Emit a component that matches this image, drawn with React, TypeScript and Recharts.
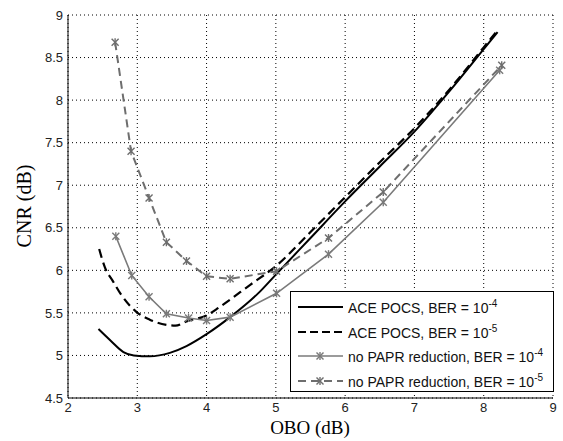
import React from "react";
import { CartesianGrid, Label, Line, LineChart, XAxis, YAxis } from "recharts";

// OBO (dB) / CNR (dB)
const aceBer4Obo = [2.44, 2.62, 2.8, 2.95, 3.18, 3.47, 3.71, 4.0, 4.34, 4.77, 5.0, 5.5, 6.0, 6.5, 7.0, 7.5, 8.0, 8.2];
const aceBer4Cnr = [5.31, 5.17, 5.04, 5.0, 4.99, 5.03, 5.11, 5.25, 5.45, 5.75, 5.95, 6.38, 6.81, 7.22, 7.63, 8.1, 8.6, 8.8];

const aceBer5Obo = [2.45, 2.53, 2.65, 2.77, 2.99, 3.18, 3.42, 3.55, 3.71, 4.0, 4.19, 4.63, 5.0, 5.5, 6.0, 6.5, 7.0, 7.5, 8.0, 8.18];
const aceBer5Cnr = [6.25, 6.04, 5.87, 5.71, 5.51, 5.42, 5.36, 5.35, 5.4, 5.47, 5.57, 5.83, 6.05, 6.45, 6.86, 7.27, 7.67, 8.12, 8.62, 8.8];

const noPaprBer4Obo = [2.69, 2.92, 3.17, 3.42, 3.74, 4.0, 4.34, 5.01, 5.76, 6.55, 8.23];
const noPaprBer4Cnr = [6.4, 5.94, 5.69, 5.49, 5.44, 5.41, 5.45, 5.73, 6.19, 6.8, 8.35];

const noPaprBer5Obo = [2.68, 2.91, 3.17, 3.42, 3.71, 4.0, 4.34, 5.01, 5.76, 6.55, 8.26];
const noPaprBer5Cnr = [8.68, 7.4, 6.85, 6.33, 6.11, 5.93, 5.9, 5.99, 6.38, 6.92, 8.41];

const xTicks = [2, 3, 4, 5, 6, 7, 8, 9];
const yTicks = [4.5, 5, 5.5, 6, 6.5, 7, 7.5, 8, 8.5, 9];

const toPoints = (xs: number[], ys: number[]) => xs.map((x, i) => ({ x, y: ys[i] }));

const aceBer4 = toPoints(aceBer4Obo, aceBer4Cnr);
const aceBer5 = toPoints(aceBer5Obo, aceBer5Cnr);
const noPaprBer4 = toPoints(noPaprBer4Obo, noPaprBer4Cnr);
const noPaprBer5 = toPoints(noPaprBer5Obo, noPaprBer5Cnr);

const SANS = '"Liberation Sans", Arial, sans-serif';
const SERIF = '"Liberation Serif", "Times New Roman", serif';
const GRAY = "#7a7a7a";
const GRAY_DARK = "#6e6e6e";

function Star({ cx, cy, color }: { cx?: number; cy?: number; color: string }) {
  if (cx == null || cy == null) return null;
  const r = 3.5;
  return (
    <g stroke={color} strokeWidth={1.4} strokeDasharray="none" fill="none">
      <line x1={cx - r} y1={cy - r} x2={cx + r} y2={cy + r} />
      <line x1={cx - r} y1={cy + r} x2={cx + r} y2={cy - r} />
      <line x1={cx} y1={cy - r - 0.5} x2={cx} y2={cy + r + 0.5} />
    </g>
  );
}

const legendItems = [
  { text: "ACE POCS, BER = 10", exp: "-4", color: "#000", width: 2, dash: undefined, marker: false },
  { text: "ACE POCS, BER = 10", exp: "-5", color: "#000", width: 2.2, dash: "8 4", marker: false },
  { text: "no PAPR reduction, BER = 10", exp: "-4", color: GRAY, width: 1.5, dash: undefined, marker: true },
  { text: "no PAPR reduction, BER = 10", exp: "-5", color: GRAY_DARK, width: 2, dash: "8 5", marker: true }
];

function ChartLegend() {
  return (
    <div
      style={{
        position: "absolute",
        left: 290,
        top: 291,
        width: 262,
        height: 99,
        border: "1px solid #000",
        background: "#fff",
        fontFamily: SANS,
        fontSize: 14,
        color: "#111"
      }}
    >
      {legendItems.map((item, i) => (
        <div
          key={i}
          style={{ position: "absolute", left: 7, top: 4 + i * 24.5, height: 22, display: "flex", alignItems: "center" }}
        >
          <svg width={45} height={12} style={{ marginRight: 5 }}>
            <line x1={0} y1={6} x2={45} y2={6} stroke={item.color} strokeWidth={item.width} strokeDasharray={item.dash} />
            {item.marker && <Star cx={22} cy={6} color={item.color} />}
          </svg>
          <span style={{ whiteSpace: "nowrap" }}>
            {item.text}
            <sup style={{ fontSize: 10 }}>{item.exp}</sup>
          </span>
        </div>
      ))}
    </div>
  );
}

export default function App() {
  const tickStyle = { fill: "#222", fontSize: 13, fontFamily: SANS };
  return (
    <div style={{ position: "absolute", left: 0, top: 0, width: 563, height: 441, background: "#fff" }}>
      <LineChart width={563} height={441} margin={{ top: 15, right: 10, left: 0, bottom: 0 }}>
        <CartesianGrid stroke="#000" strokeDasharray="1 3" strokeWidth={1} />
        <XAxis
          dataKey="x"
          type="number"
          domain={[2, 9]}
          ticks={xTicks}
          interval={0}
          allowDataOverflow
          height={43}
          tickLine={false}
          tickSize={0}
          tickMargin={5}
          axisLine={{ stroke: "#000" }}
          tick={tickStyle}
        >
          <Label
            content={() => (
              <text x={310} y={434} textAnchor="middle" fontFamily={SERIF} fontSize={19} fill="#000">
                OBO (dB)
              </text>
            )}
          />
        </XAxis>
        <XAxis
          xAxisId="top"
          orientation="top"
          type="number"
          domain={[2, 9]}
          ticks={xTicks}
          height={0}
          tick={false}
          tickLine={false}
          axisLine={{ stroke: "#000" }}
        />
        <YAxis
          type="number"
          domain={[4.5, 9]}
          ticks={yTicks}
          interval={0}
          allowDataOverflow
          width={68}
          tickLine={false}
          tickSize={0}
          tickMargin={5}
          axisLine={{ stroke: "#000" }}
          tick={tickStyle}
        >
          <Label
            content={() => (
              <text
                x={31}
                y={206}
                textAnchor="middle"
                fontFamily={SERIF}
                fontSize={20}
                fill="#000"
                transform="rotate(-90 31 206)"
              >
                CNR (dB)
              </text>
            )}
          />
        </YAxis>
        <YAxis
          yAxisId="right"
          orientation="right"
          type="number"
          domain={[4.5, 9]}
          ticks={yTicks}
          width={0}
          tick={false}
          tickLine={false}
          axisLine={{ stroke: "#000" }}
        />
        <Line
          data={aceBer4}
          dataKey="y"
          type="monotone"
          stroke="#000"
          strokeWidth={2}
          dot={false}
          isAnimationActive={false}
        />
        <Line
          data={aceBer5}
          dataKey="y"
          type="monotone"
          stroke="#000"
          strokeWidth={2.2}
          strokeDasharray="9 5"
          dot={false}
          isAnimationActive={false}
        />
        <Line
          data={noPaprBer4}
          dataKey="y"
          type="linear"
          stroke={GRAY}
          strokeWidth={1.6}
          dot={(p: any) => <Star key={`a${p.index}`} cx={p.cx} cy={p.cy} color={GRAY} />}
          isAnimationActive={false}
        />
        <Line
          data={noPaprBer5}
          dataKey="y"
          type="linear"
          stroke={GRAY_DARK}
          strokeWidth={2}
          strokeDasharray="8 5"
          dot={(p: any) => <Star key={`b${p.index}`} cx={p.cx} cy={p.cy} color={GRAY_DARK} />}
          isAnimationActive={false}
        />
      </LineChart>
      <ChartLegend />
    </div>
  );
}
